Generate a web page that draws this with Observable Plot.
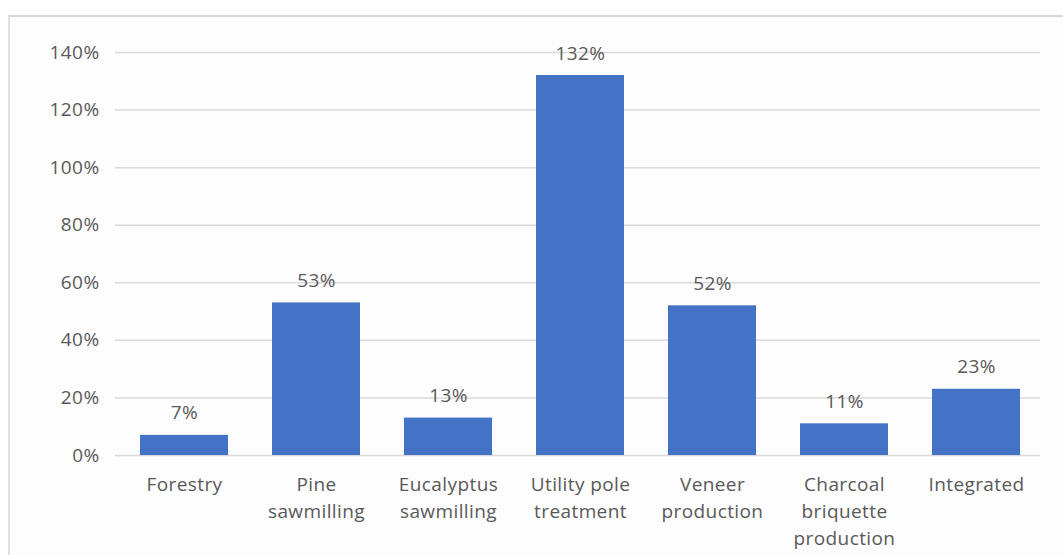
<!DOCTYPE html>
<html>
<head>
<meta charset="utf-8">
<script src="https://cdn.jsdelivr.net/npm/d3@7"></script>
<script src="https://cdn.jsdelivr.net/npm/@observablehq/plot@0.6"></script>
<style>
  html, body { margin: 0; padding: 0; background: #fff; }
  #wrap { position: relative; width: 1063px; height: 555px; overflow: hidden; }
  #frame { position: absolute; left: 8px; top: 15px; width: 1100px; height: 600px;
           border-top: 2px solid #d6d6d6; border-left: 2px solid #e0e0e0; background: #fdfdfd; }
  #chart { position: absolute; left: 0; top: 0; }
  #chart text { letter-spacing: 0.4px; }
</style>
</head>
<body>
<div id="wrap"><div id="frame"></div><div id="chart"></div></div>
<script>
const categories = ["Forestry", "Pine sawmilling", "Eucalyptus sawmilling", "Utility pole treatment", "Veneer production", "Charcoal briquette production", "Integrated"];
const tickLabels = ["Forestry", "Pine\nsawmilling", "Eucalyptus\nsawmilling", "Utility pole\ntreatment", "Veneer\nproduction", "Charcoal\nbriquette\nproduction", "Integrated"];
const values = [7, 53, 13, 132, 52, 11, 23];
const yTicks = [0, 20, 40, 60, 80, 100, 120, 140];

const data = categories.map((c, i) => ({category: c, value: values[i]}));
const labelOf = new Map(categories.map((c, i) => [c, tickLabels[i]]));

const chart = Plot.plot({
  width: 1063,
  height: 555,
  marginTop: 52,
  marginBottom: 100,
  marginLeft: 115,
  marginRight: 23,
  style: {fontFamily: "'Open Sans', 'Noto Sans', sans-serif", fontSize: "19px", color: "#595959", background: "transparent"},
  x: {domain: categories, range: [115, 1044.5], paddingInner: 0.335, paddingOuter: 0.18, label: null},
  y: {domain: [0, 140], label: null},
  marks: [
    Plot.gridY(yTicks, {stroke: "#d9d9d9", strokeOpacity: 1, strokeWidth: 1.5}),
    Plot.barY(data, {x: "category", y: "value", fill: "#4472c4"}),
    Plot.text(data, {x: "category", y: "value", text: d => d.value + "%", dy: -22, fill: "#595959", fontSize: 19}),
    Plot.axisY(yTicks, {tickSize: 0, tickPadding: 16, tickFormat: d => d + "%", fill: "#595959", fontSize: 19, label: null}),
    Plot.axisX({tickSize: 0, tickPadding: 17, tickFormat: d => labelOf.get(d), fill: "#595959", fontSize: 19, lineHeight: 1.4, label: null})
  ]
});
document.getElementById("chart").appendChild(chart);
</script>
</body>
</html>
